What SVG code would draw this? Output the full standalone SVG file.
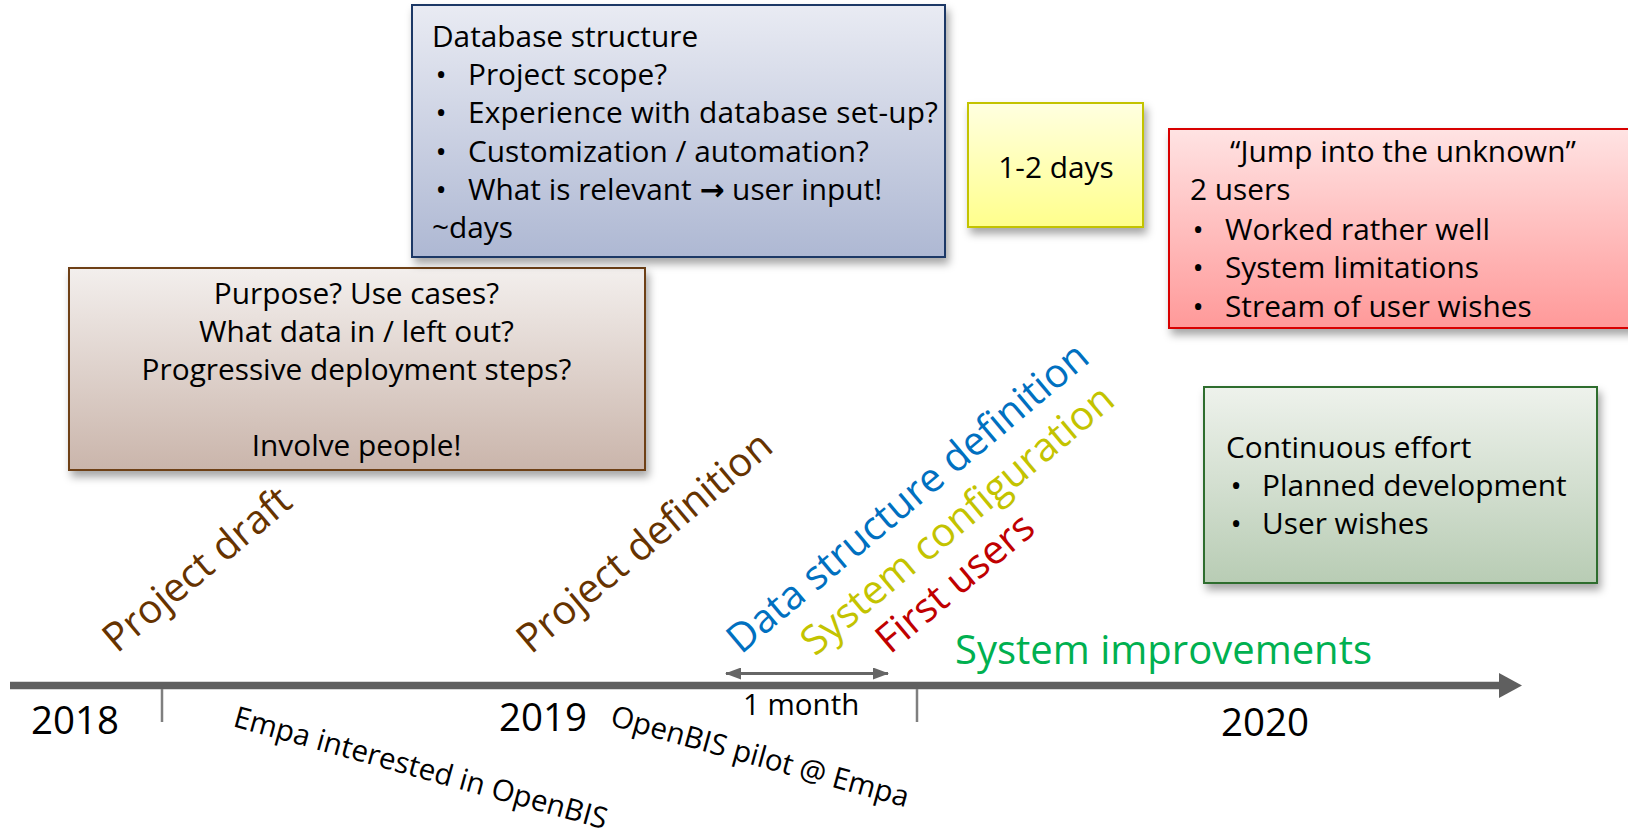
<svg xmlns="http://www.w3.org/2000/svg" width="1628" height="836" viewBox="0 0 1628 836">
  <defs>
    <style>
      text { font-family: "Open Sans", "Noto Sans", "DejaVu Sans", sans-serif; fill: #000; }
      .body { font-size: 29.8px; }
      .mid { text-anchor: middle; }
      .phase { font-size: 40px; }
      .year { font-size: 38.5px; }
      .note { font-size: 29.5px; }
      .box { stroke-width: 2; filter: url(#shadow); }
    </style>
    <filter id="shadow" x="-10%" y="-10%" width="130%" height="140%">
      <feDropShadow dx="3" dy="6" stdDeviation="4" flood-color="#000" flood-opacity="0.35"/>
    </filter>
    <linearGradient id="gBlue" x1="0" y1="0" x2="0" y2="1">
      <stop offset="0" stop-color="#e9ebf3"/>
      <stop offset="1" stop-color="#aeb8d3"/>
    </linearGradient>
    <linearGradient id="gBrown" x1="0" y1="0" x2="0" y2="1">
      <stop offset="0" stop-color="#f3efed"/>
      <stop offset="1" stop-color="#cab5ab"/>
    </linearGradient>
    <linearGradient id="gYellow" x1="0" y1="0" x2="0" y2="1">
      <stop offset="0" stop-color="#ffffe0"/>
      <stop offset="1" stop-color="#ffff8c"/>
    </linearGradient>
    <linearGradient id="gRed" x1="0" y1="0" x2="0" y2="1">
      <stop offset="0" stop-color="#ffe3e3"/>
      <stop offset="1" stop-color="#ff9999"/>
    </linearGradient>
    <linearGradient id="gGreen" x1="0" y1="0" x2="0" y2="1">
      <stop offset="0" stop-color="#eef2ec"/>
      <stop offset="1" stop-color="#b8ccb4"/>
    </linearGradient>
    <marker id="dbl" viewBox="0 0 16 12" refX="15" refY="6" markerWidth="16" markerHeight="12" markerUnits="userSpaceOnUse" orient="auto-start-reverse">
      <path d="M0,0 L16,6 L0,12 Z" fill="#666666"/>
    </marker>
  </defs>

  <rect width="1628" height="836" fill="#ffffff"/>

  <!-- timeline axis, ticks and the one-month span -->
  <g id="connectors">
    <line x1="10" y1="685.5" x2="1500" y2="685.5" stroke="#5f5f5f" stroke-width="7.5"/>
    <polygon points="1499,673 1522,685.5 1499,698" fill="#5f5f5f"/>
    <line x1="162" y1="689" x2="162" y2="722" stroke="#7f7f7f" stroke-width="2.5"/>
    <line x1="917" y1="689" x2="917" y2="722" stroke="#7f7f7f" stroke-width="2.5"/>
    <line x1="726" y1="673.5" x2="888" y2="673.5" stroke="#666666" stroke-width="3" marker-start="url(#dbl)" marker-end="url(#dbl)"/>
  </g>

  <!-- year labels -->
  <g id="years">
    <text class="year" x="31" y="734">2018</text>
    <text class="year" x="499" y="731">2019</text>
    <text class="year" x="1221" y="736">2020</text>
  </g>

  <g id="span-label">
    <text class="note" x="743" y="715">1 month</text>
  </g>

  <!-- milestones below the axis -->
  <g id="milestones">
    <text class="note" transform="translate(232,726) rotate(15.5)">Empa interested in OpenBIS</text>
    <text class="note" transform="translate(609,725) rotate(15.5)">OpenBIS pilot @ Empa</text>
  </g>

  <!-- phase labels above the axis -->
  <g id="phases">
    <text class="phase" style="fill:#663300" transform="translate(117,654) rotate(-40)">Project draft</text>
    <text class="phase" style="fill:#663300" transform="translate(531,655) rotate(-40)">Project definition</text>
    <text class="phase" style="fill:#0070c0" transform="translate(741,655) rotate(-40)">Data structure definition</text>
    <text class="phase" style="fill:#c3c300" transform="translate(815,657) rotate(-40)">System configuration</text>
    <text class="phase" style="fill:#c00000" transform="translate(890,655) rotate(-40)">First users</text>
    <text class="phase" style="fill:#00b050" x="955" y="664" font-size="40.3">System improvements</text>
  </g>

  <!-- project draft notes -->
  <g id="node-draft">
    <rect class="box" x="69" y="268" width="576" height="202" fill="url(#gBrown)" stroke="#6e4012"/>
    <text class="body mid" x="356.5" y="304">Purpose? Use cases?</text>
    <text class="body mid" x="356.5" y="342">What data in / left out?</text>
    <text class="body mid" x="356.5" y="380">Progressive deployment steps?</text>
    <text class="body mid" x="356.5" y="456">Involve people!</text>
  </g>

  <!-- database structure notes -->
  <g id="node-database">
    <rect class="box" x="412" y="5" width="533" height="252" fill="url(#gBlue)" stroke="#1f3966"/>
    <text class="body" x="432" y="47">Database structure</text>
    <text class="body mid" x="441" y="85">•</text>
    <text class="body" x="468" y="85">Project scope?</text>
    <text class="body mid" x="441" y="123">•</text>
    <text class="body" x="468" y="123" letter-spacing="0.2">Experience with database set-up?</text>
    <text class="body mid" x="441" y="162">•</text>
    <text class="body" x="468" y="162">Customization / automation?</text>
    <text class="body mid" x="441" y="200">•</text>
    <text class="body" x="468" y="200">What is relevant <tspan font-weight="bold">→</tspan> user input!</text>
    <text class="body" x="432" y="238">~days</text>
  </g>

  <!-- configuration duration -->
  <g id="node-config">
    <rect class="box" x="968" y="103" width="175" height="124" fill="url(#gYellow)" stroke="#c3c300"/>
    <text class="body mid" x="1056" y="178">1-2 days</text>
  </g>

  <!-- first users notes -->
  <g id="node-users">
    <rect class="box" x="1169" y="129" width="470" height="199" fill="url(#gRed)" stroke="#d80000"/>
    <text class="body" x="1230" y="162">“Jump into the unknown”</text>
    <text class="body" x="1190" y="200">2 users</text>
    <text class="body mid" x="1198" y="240">•</text>
    <text class="body" x="1225" y="240">Worked rather well</text>
    <text class="body mid" x="1198" y="278">•</text>
    <text class="body" x="1225" y="278">System limitations</text>
    <text class="body mid" x="1198" y="317">•</text>
    <text class="body" x="1225" y="317">Stream of user wishes</text>
  </g>

  <!-- improvements notes -->
  <g id="node-improvements">
    <rect class="box" x="1204" y="387" width="393" height="196" fill="url(#gGreen)" stroke="#2f6d2f"/>
    <text class="body" x="1226" y="458">Continuous effort</text>
    <text class="body mid" x="1236" y="496">•</text>
    <text class="body" x="1262" y="496">Planned development</text>
    <text class="body mid" x="1236" y="534">•</text>
    <text class="body" x="1262" y="534">User wishes</text>
  </g>
</svg>
